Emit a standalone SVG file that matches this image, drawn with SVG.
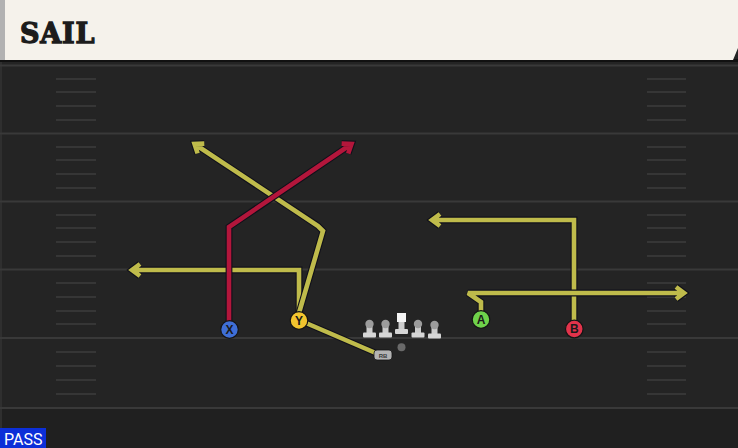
<svg xmlns="http://www.w3.org/2000/svg" width="738" height="448" viewBox="0 0 738 448">
<style>
.yard{stroke:#393939;stroke-width:2;fill:none}
.hash{stroke:#363636;stroke-width:2;fill:none}
.ol{fill:none;stroke:#10101a;stroke-width:6.8;stroke-linejoin:miter;stroke-miterlimit:2}
.yel{fill:none;stroke:#bfbb4b;stroke-width:4.6;stroke-linejoin:miter;stroke-miterlimit:2}
.red{fill:none;stroke:#b3163b;stroke-width:4.6;stroke-linejoin:miter;stroke-miterlimit:2}
.pl{stroke:#151515;stroke-width:1.2}
.lbl{font-family:"Liberation Sans",Arial,sans-serif;font-weight:bold;font-size:12px;fill:#1a1a1a;text-anchor:middle}
.stem{fill:#cdcdcd}
.base{fill:#d6d6d6}
.head{fill:#9c9c9c}
</style>
<rect x="0" y="0" width="738" height="448" fill="#242424"/>
<rect x="0" y="408" width="738" height="40" fill="#202020"/>
<rect x="0" y="60" width="2" height="388" fill="#2f2f2f"/>
<g id="field">
<path class="yard" d="M0,65.5 H738 M0,133.5 H738 M0,201.5 H738 M0,269.5 H738 M0,338 H738 M0,408 H738"/>
<path class="hash" d="M56,79 H96 M56,92 H96 M56,106 H96 M56,120 H96 M56,147 H96 M56,160 H96 M56,174 H96 M56,188 H96 M56,215 H96 M56,228 H96 M56,242 H96 M56,256 H96 M56,283 H96 M56,297 H96 M56,311 H96 M56,324 H96 M56,352 H96 M56,366 H96 M56,380 H96 M56,394 H96
M647,79 H686 M647,92 H686 M647,106 H686 M647,120 H686 M647,147 H686 M647,160 H686 M647,174 H686 M647,188 H686 M647,215 H686 M647,228 H686 M647,242 H686 M647,256 H686 M647,283 H686 M647,297 H686 M647,311 H686 M647,324 H686 M647,352 H686 M647,366 H686 M647,380 H686 M647,394 H686"/>
</g>
<g id="header">
<rect x="0" y="59" width="738" height="3" fill="#111111"/>
<polygon points="0,0 738,0 738,48 733,60 0,60" fill="#f5f2eb"/>
<rect x="0" y="0" width="5" height="60" fill="#b2b2b2"/>
<text x="20" y="42.5" font-family="'DejaVu Serif','Liberation Serif',serif" font-weight="bold" font-size="27" fill="#1c1c1c" stroke="#1c1c1c" stroke-width="1.3" letter-spacing="0.8">SAIL</text>
</g>
<g id="connectors">
<path class="ol" d="M299,320 L378,354"/>
<path class="yel" d="M299,320 L378,354"/>
<path class="ol" d="M299,313 V270 H132 M140,264 L132,270 L140,276"/>
<path class="yel" d="M299,313 V270 H132 M140,264 L132,270 L140,276"/>
<path class="ol" d="M299,313 L323,231 L318,226 L194.5,144 M204.3,143.6 L194.5,144 L197.6,153.4"/>
<path class="yel" d="M299,313 L323,231 L318,226 L194.5,144 M204.3,143.6 L194.5,144 L197.6,153.4"/>
<path class="ol" d="M229,321 V227 L351.5,144 M341.6,143.6 L351.5,144 L348.2,153.4"/>
<path class="red" d="M229,321 V227 L351.5,144 M341.6,143.6 L351.5,144 L348.2,153.4"/>
<path class="ol" d="M574,321 V220 H432 M440,214 L432,220 L440,226"/>
<path class="yel" d="M574,321 V220 H432 M440,214 L432,220 L440,226"/>
<path class="ol" d="M481,311 V302 L468,293 H684 M676,287 L684,293 L676,299"/>
<path class="yel" d="M481,311 V302 L468,293 H684 M676,287 L684,293 L676,299"/>
</g>
<g id="line">
<g id="lt">
<rect class="stem" x="366.5" y="325" width="6" height="10"/>
<rect class="base" x="363" y="332.5" width="13" height="5" rx="1"/>
<circle class="head" cx="369.5" cy="324" r="4.2"/>
</g>
<g id="lg">
<rect class="stem" x="382.5" y="325" width="6" height="10"/>
<rect class="base" x="379" y="332.5" width="13" height="5" rx="1"/>
<circle class="head" cx="385.5" cy="324" r="4.2"/>
</g>
<g id="c">
<rect class="stem" x="398.5" y="322" width="6" height="9"/>
<rect class="base" x="395" y="329" width="13" height="5" rx="1"/>
<rect x="397" y="313" width="9" height="9" fill="#f4f4f4"/>
</g>
<g id="rg">
<rect class="stem" x="415" y="325" width="6" height="10"/>
<rect class="base" x="411.5" y="332.5" width="13" height="5" rx="1"/>
<circle class="head" cx="418" cy="324" r="4.2"/>
</g>
<g id="rt">
<rect class="stem" x="431.5" y="326" width="6" height="10"/>
<rect class="base" x="428" y="333.5" width="13" height="5" rx="1"/>
<circle class="head" cx="434.5" cy="325" r="4.2"/>
</g>
</g>
<g id="qb"><circle cx="401.5" cy="347.3" r="4" fill="#6a6a6a"/></g>
<g id="rb">
<rect x="374" y="350" width="18" height="10" rx="3" fill="#b3b3b3" stroke="#151515" stroke-width="0.8"/>
<text x="383" y="357.5" font-family="'Liberation Sans',Arial,sans-serif" font-size="6" font-weight="bold" fill="#3a3a3a" text-anchor="middle">RB</text>
</g>
<g id="X"><circle class="pl" cx="229.5" cy="329.5" r="8.8" fill="#3f6fd6"/><text class="lbl" x="229.5" y="333.8">X</text></g>
<g id="Y"><circle class="pl" cx="299" cy="320.5" r="8.8" fill="#f2c52e"/><text class="lbl" x="299" y="324.8">Y</text></g>
<g id="A"><circle class="pl" cx="481" cy="319.5" r="8.8" fill="#6fd24b"/><text class="lbl" x="481" y="323.8">A</text></g>
<g id="B"><circle class="pl" cx="574.3" cy="329" r="8.8" fill="#e2334b"/><text class="lbl" x="574.3" y="333.3">B</text></g>
<g id="pass">
<rect x="0" y="428" width="46" height="20" fill="#0c2fd8"/>
<text x="4" y="445" font-family="Roboto,'Liberation Sans',Arial,sans-serif" font-size="16" fill="#ffffff">PASS</text>
</g>
</svg>
